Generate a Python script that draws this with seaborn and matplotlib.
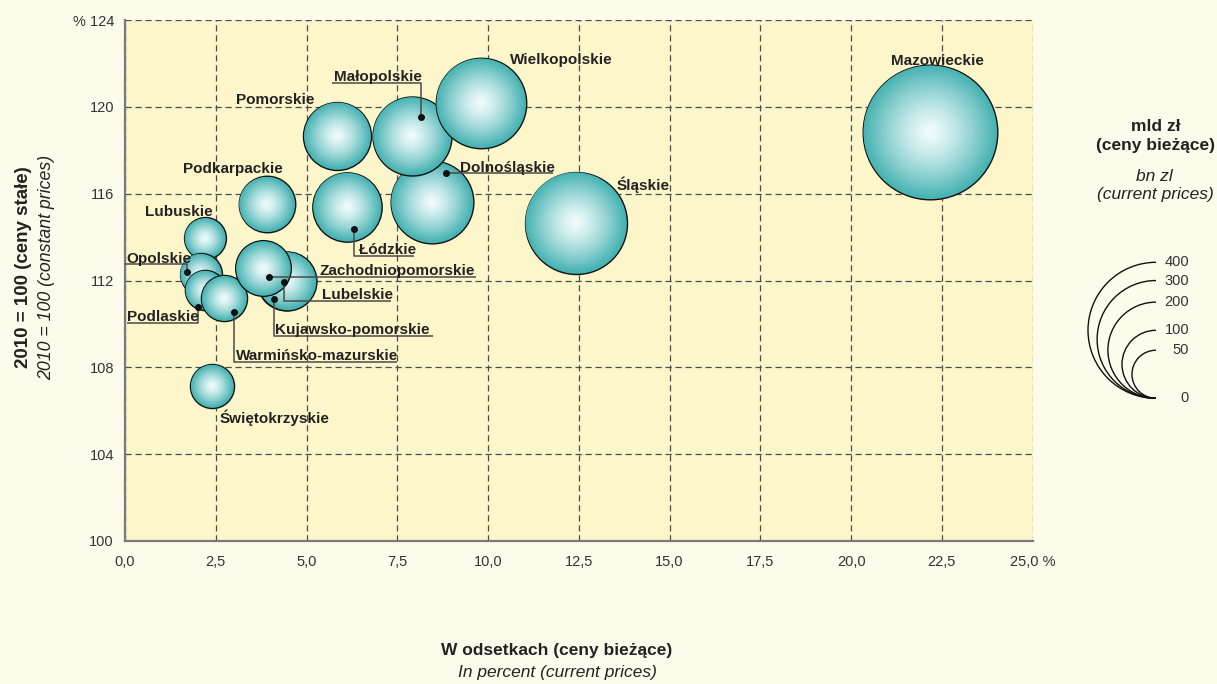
import numpy as np
import pandas as pd
import matplotlib
matplotlib.use("Agg")
import matplotlib.pyplot as plt
import matplotlib.font_manager as fm
from matplotlib.patches import Arc
import seaborn as sns

# ---------------- data ----------------
regions = ["Lubuskie", "Opolskie", "Podlaskie", "Warmińsko-mazurskie",
           "Kujawsko-pomorskie", "Lubelskie", "Zachodniopomorskie",
           "Podkarpackie", "Łódzkie", "Pomorskie", "Dolnośląskie",
           "Małopolskie", "Wielkopolskie", "Śląskie", "Mazowieckie",
           "Świętokrzyskie"]
share_pct = [2.20, 2.08, 2.20, 2.73, 4.44, 4.45, 3.81, 3.90, 6.12, 5.85,
             8.45, 7.90, 9.80, 12.41, 22.17, 2.40]
index_2010 = [113.94, 112.30, 111.56, 111.18, 111.98, 111.99, 112.56,
              115.51, 115.40, 118.67, 115.62, 118.66, 120.18, 114.67,
              118.84, 107.14]
gdp_bn = [38, 38, 35, 46, 74, 75, 67, 69, 104, 100, 148, 135, 177, 225,
          392, 42]

x_ticks = [0, 2.5, 5, 7.5, 10, 12.5, 15, 17.5, 20, 22.5, 25]
x_ticklabels = ["0,0", "2,5", "5,0", "7,5", "10,0", "12,5", "15,0", "17,5",
                "20,0", "22,5", "25,0 %"]
y_ticks = [100, 104, 108, 112, 116, 120, 124]
y_ticklabels = ["100", "104", "108", "112", "116", "120", "% 124"]
legend_values = [400, 300, 200, 100, 50, 0]

df = pd.DataFrame({"region": regions, "share": share_pct,
                   "growth": index_2010, "gdp": gdp_bn})

# ---------------- style ----------------
sns.set_style("white")
names = {f.name for f in fm.fontManager.ttflist}
if "Liberation Sans Narrow" in names:
    FONT = ["Liberation Sans Narrow", "DejaVu Sans"]
    scale = 1.19
else:
    FONT = ["Liberation Sans", "DejaVu Sans"]
    scale = 1.0
plt.rcParams["font.family"] = FONT

FS_TICK = 10.5 * scale
FS_LAB = 11.0 * scale
FS_TITLE = 12.5 * scale

FIG_BG = "#FDFCEC"
AX_BG = "#FEF6CB"
TXT = "#222222"
EDGE_TEAL = np.array([0.28, 0.70, 0.70])
CENTER = np.array([0.95, 0.99, 0.99])

fig = plt.figure(figsize=(12.17, 6.84), dpi=100, facecolor=FIG_BG)
ax = fig.add_axes([125 / 1217, 1 - 541 / 684, (1032.7 - 125) / 1217, (541 - 20) / 684])
ax.set_facecolor(AX_BG)

ax.set_xlim(0, 25)
ax.set_ylim(100, 124)

K_PT = 3.4 * 0.72


def area(v, frac=1.0):
    return (2 * K_PT * np.sqrt(v) * frac) ** 2


# ---------------- bubbles ----------------
N = 45
for i in range(len(df)):
    row = df.iloc[i]
    z = 3 + i * 0.01
    s_full = float(area(row["gdp"]))
    sns.scatterplot(data=df.iloc[[i]], x="share", y="growth", s=s_full,
                    color=tuple(EDGE_TEAL), edgecolor="#111111", linewidth=1.0,
                    ax=ax, legend=False, zorder=z)
    r_pt = np.sqrt(s_full) / 2
    start = max(0.0, (r_pt - 0.6) / r_pt)
    fracs = np.linspace(start, 0.02, N)
    sizes = (2 * r_pt * fracs) ** 2
    t = fracs / start
    cols = CENTER[None, :] + (EDGE_TEAL - CENTER)[None, :] * (t ** 1.3)[:, None]
    ax.scatter([row["share"]] * N, [row["growth"]] * N, s=sizes, c=cols,
               linewidths=0, zorder=z + 0.005)

# ---------------- labels & leaders ----------------
labels = {
    "Mazowieckie": (22.39, 121.92, "center"),
    "Wielkopolskie": (10.60, 121.97, "left"),
    "Śląskie": (13.55, 116.17, "left"),
    "Dolnośląskie": (9.23, 117.01, "left"),
    "Małopolskie": (5.76, 121.18, "left"),
    "Pomorskie": (3.06, 120.13, "left"),
    "Podkarpackie": (1.61, 116.96, "left"),
    "Lubuskie": (0.55, 114.97, "left"),
    "Opolskie": (0.03, 112.82, "left"),
    "Podlaskie": (0.06, 110.13, "left"),
    "Warmińsko-mazurskie": (3.06, 108.33, "left"),
    "Kujawsko-pomorskie": (4.13, 109.55, "left"),
    "Lubelskie": (5.42, 111.14, "left"),
    "Zachodniopomorskie": (5.37, 112.25, "left"),
    "Łódzkie": (6.45, 113.20, "left"),
    "Świętokrzyskie": (2.60, 105.45, "left"),
}
leaders = {
    "Dolnośląskie": [(8.84, 116.94), (11.79, 116.94)],
    "Małopolskie": [(8.15, 119.53), (8.15, 121.11), (5.70, 121.11)],
    "Opolskie": [(1.70, 112.41), (1.70, 112.75), (0.0, 112.75)],
    "Podlaskie": [(2.02, 110.79), (2.02, 110.06), (0.06, 110.06)],
    "Warmińsko-mazurskie": [(3.00, 110.56), (3.00, 108.26), (7.48, 108.26)],
    "Kujawsko-pomorskie": [(4.10, 111.16), (4.10, 109.46), (8.47, 109.46)],
    "Lubelskie": [(4.39, 111.92), (4.39, 111.07), (7.33, 111.07)],
    "Zachodniopomorskie": [(3.97, 112.15), (9.67, 112.15)],
    "Łódzkie": [(6.32, 114.39), (6.32, 113.13), (7.96, 113.13)],
}
for name, (lx, ly, ha) in labels.items():
    ax.text(lx, ly, name, ha=ha, va="baseline", fontsize=FS_LAB,
            fontweight="bold", color=TXT, zorder=10)
for name, pts in leaders.items():
    xs, ys = zip(*pts)
    ax.plot(xs, ys, color="#4a4a4a", lw=1.1, zorder=9, solid_capstyle="butt")
    ax.plot([xs[0]], [ys[0]], "o", ms=4, color="#111111", zorder=11)

# ---------------- axes styling ----------------
ax.set_xticks(x_ticks)
ax.set_xticklabels(x_ticklabels)
ax.set_yticks(y_ticks)
ax.set_yticklabels(y_ticklabels)
ax.tick_params(length=0, labelsize=FS_TICK, labelcolor="#333333", pad=10)
ax.tick_params(axis="y", pad=8)
ax.grid(True, color="#4d4d4d", lw=0.9, ls=(0, (5, 3)))
ax.set_axisbelow(True)
for side in ["top", "right"]:
    ax.spines[side].set_visible(False)
for side in ["left", "bottom"]:
    ax.spines[side].set_color("#7a7a7a")
    ax.spines[side].set_linewidth(1.6)
    ax.spines[side].set_zorder(2.5)
ax.set_xlabel("")
ax.set_ylabel("")

# axis titles
fig.text(557 / 1217, 1 - 651 / 684, "W odsetkach (ceny bieżące)", ha="center", va="center",
         fontsize=FS_TITLE, fontweight="bold", color=TXT)
fig.text(557 / 1217, 1 - 673 / 684, "In percent (current prices)", ha="center", va="center",
         fontsize=FS_TITLE, style="italic", color=TXT)
fig.text(24 / 1217, 1 - 267 / 684, "2010 = 100 (ceny stałe)", ha="center", va="center",
         rotation=90, fontsize=FS_TITLE * 1.08, fontweight="bold", color=TXT)
fig.text(47 / 1217, 1 - 267 / 684, "2010 = 100 (constant prices)", ha="center", va="center",
         rotation=90, fontsize=FS_TITLE * 1.02, style="italic", color=TXT)

# ---------------- size legend ----------------
ov = fig.add_axes([0, 0, 1, 1])
ov.set_xlim(0, 1217)
ov.set_ylim(684, 0)
ov.axis("off")
ov.patch.set_alpha(0)
base_x, base_y = 1156.0, 398.3
for v in legend_values:
    r = 3.4 * np.sqrt(v)
    if r > 0:
        ov.add_patch(Arc((base_x, base_y - r), 2 * r, 2 * r, theta1=90, theta2=270,
                         color="#111111", lw=1.0))
    ov.text(1189, base_y - 2 * r, str(v), ha="right", va="center",
            fontsize=FS_TICK, color="#333333")
ov.text(1156, 126.5, "mld zł", ha="center", va="center", fontsize=FS_TITLE,
        fontweight="bold", color=TXT)
ov.text(1156, 145.5, "(ceny bieżące)", ha="center", va="center", fontsize=FS_TITLE,
        fontweight="bold", color=TXT)
ov.text(1154, 176.5, "bn zl", ha="center", va="center", fontsize=FS_TITLE,
        style="italic", color=TXT)
ov.text(1155, 195, "(current prices)", ha="center", va="center", fontsize=FS_TITLE,
        style="italic", color=TXT)

fig.savefig("out.png", dpi=100, facecolor=FIG_BG)
